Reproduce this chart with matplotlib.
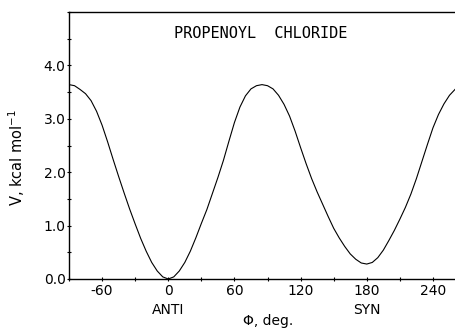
import numpy as np
import matplotlib.pyplot as plt
from matplotlib.ticker import MultipleLocator, FormatStrFormatter

plt.rcParams["axes.unicode_minus"] = False

# torsion angle (deg) and potential energy (kcal/mol)
phi = [-90, -85, -80, -75, -70, -65, -60, -55, -50, -45, -40, -35, -30, -25,
       -20, -15, -10, -5, 0, 5, 10, 15, 20, 25, 30, 35, 40, 45, 50, 55, 60,
       65, 70, 75, 80, 85, 90, 95, 100, 105, 110, 115, 120, 125, 130, 135,
       140, 145, 150, 155, 160, 165, 170, 175, 180, 185, 190, 195, 200, 205,
       210, 215, 220, 225, 230, 235, 240, 245, 250, 255, 260]
V = [3.64, 3.62, 3.55, 3.47, 3.34, 3.14, 2.88, 2.57, 2.24, 1.92, 1.61, 1.31,
     1.03, 0.76, 0.52, 0.31, 0.15, 0.04, 0.0, 0.04, 0.15, 0.31, 0.52, 0.77,
     1.04, 1.30, 1.60, 1.90, 2.22, 2.58, 2.93, 3.22, 3.43, 3.56, 3.62, 3.64,
     3.62, 3.56, 3.44, 3.27, 3.05, 2.77, 2.46, 2.16, 1.88, 1.63, 1.40, 1.17,
     0.95, 0.77, 0.61, 0.47, 0.37, 0.30, 0.28, 0.31, 0.40, 0.54, 0.72, 0.91,
     1.12, 1.34, 1.59, 1.88, 2.20, 2.52, 2.83, 3.08, 3.28, 3.44, 3.55]

xticks = [-60, 0, 60, 120, 180, 240]
yticks = [0, 1, 2, 3, 4]
conf_labels = {0: "ANTI", 180: "SYN"}

fig = plt.figure(figsize=(4.55, 3.29), dpi=100)
ax = fig.add_axes([69/455, 1 - 279/329, 1 - 69/455, 267/329])

ax.plot(phi, V, color="black", lw=0.8)

ax.set_xlim(-90, 260)
ax.set_ylim(0, 5.0)
ax.set_xticks(xticks)
ax.xaxis.set_minor_locator(MultipleLocator(30))
ax.set_yticks(yticks)
ax.yaxis.set_minor_locator(MultipleLocator(0.5))
ax.yaxis.set_major_formatter(FormatStrFormatter("%.1f"))
ax.tick_params(which="both", direction="inout", length=3, width=0.8,
               labelsize=10, colors="black")
ax.tick_params(axis="x", pad=2)
ax.tick_params(axis="y", pad=1)
ax.tick_params(which="both", top=False, right=False)

ax.spines["right"].set_visible(False)
for s in ["left", "bottom", "top"]:
    ax.spines[s].set_linewidth(1.0)

for x, lab in conf_labels.items():
    ax.annotate(lab, xy=(x, 0), xycoords=("data", "axes fraction"),
                xytext=(0, -22.5), textcoords="offset points",
                ha="center", va="center", fontsize=10)

ax.text(0.496, 0.921, "PROPENOYL  CHLORIDE", transform=ax.transAxes,
        ha="center", va="center", family="DejaVu Sans Mono", fontsize=11,
        fontweight="light")

fig.text(268/455, 1 - 321/329, "Φ, deg.", ha="center", va="center",
         fontsize=10)
fig.text(17/455, 1 - 158/329, "V, kcal mol$^{-1}$", rotation=90,
         ha="center", va="center", fontsize=10.5)

fig.savefig("out.png", dpi=100)
